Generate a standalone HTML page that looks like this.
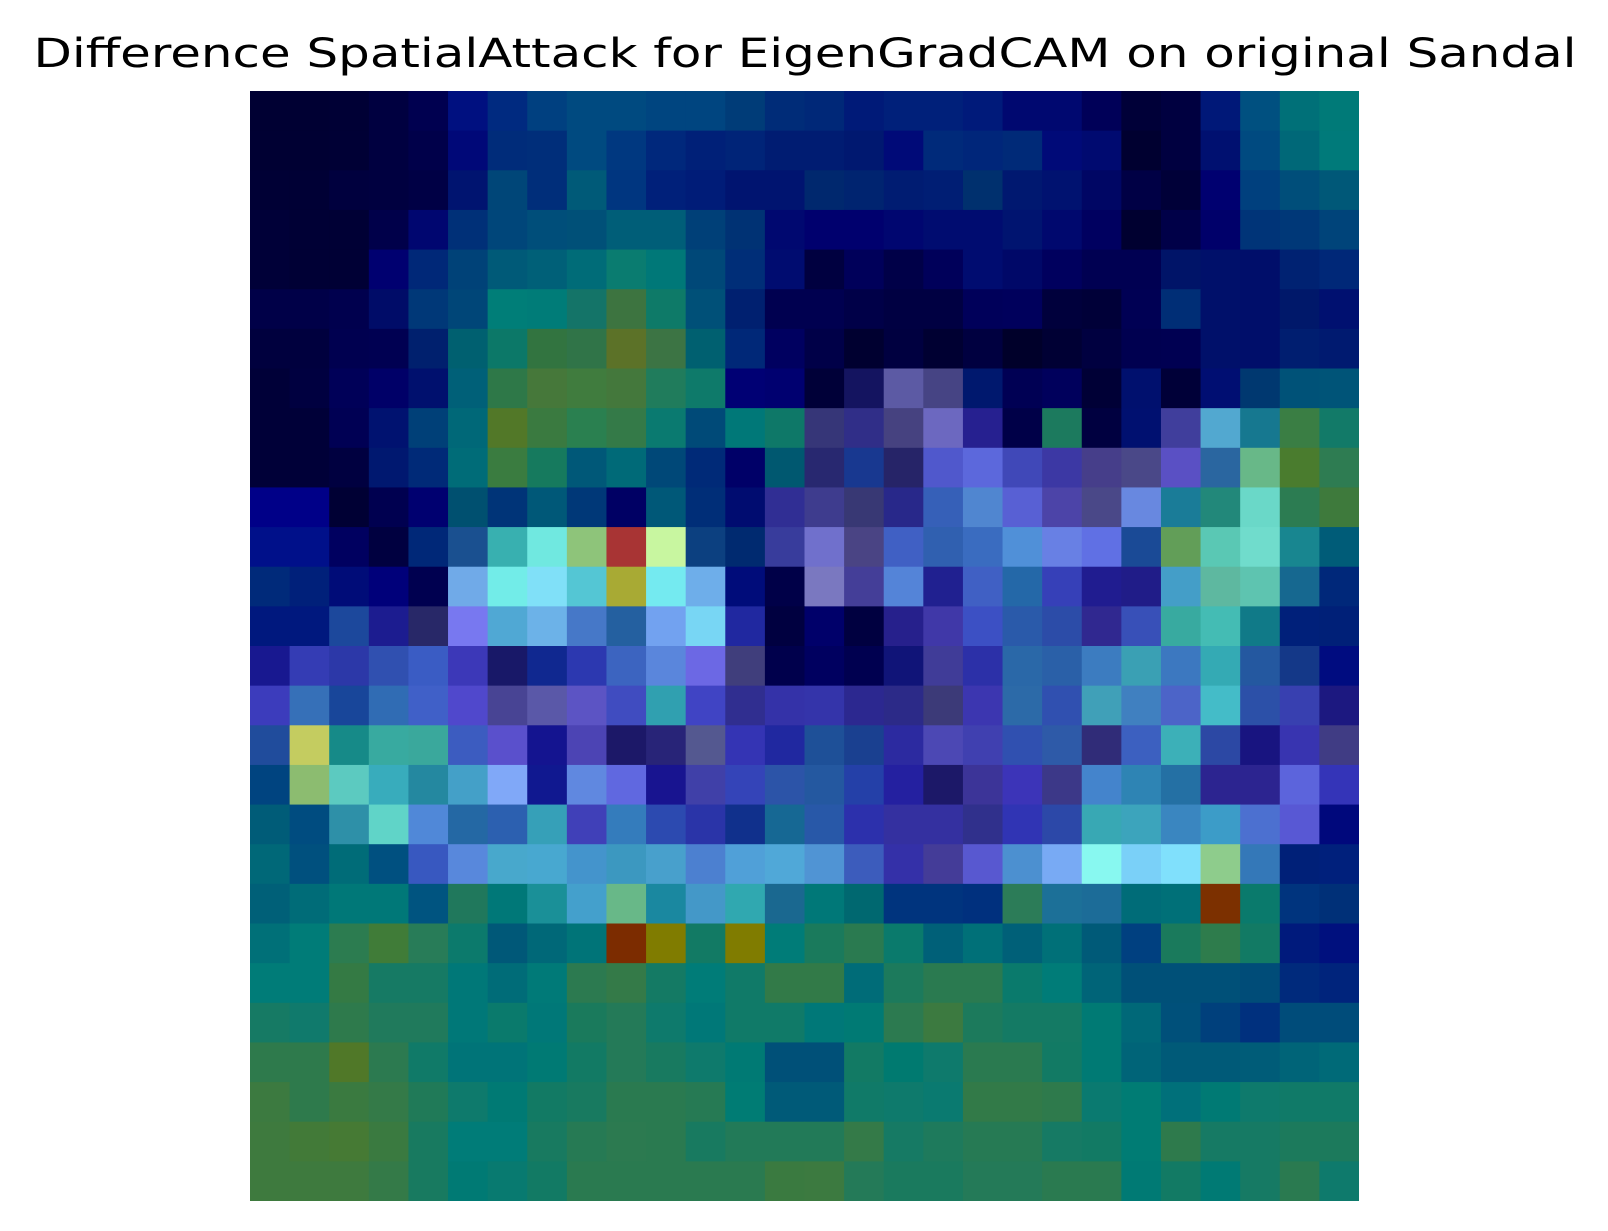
<!DOCTYPE html>
<html><head><meta charset="utf-8"><style>
html,body{margin:0;padding:0;background:#fff;width:1608px;height:1231px;overflow:hidden}
svg{display:block}
</style></head><body>
<svg id="chart" width="1608" height="1231" xmlns="http://www.w3.org/2000/svg">
<rect width="1608" height="1231" fill="#fff"/>
<text x="805" y="67" text-anchor="middle" font-family="DejaVu Sans, Liberation Sans, sans-serif" font-size="40" textLength="1543" lengthAdjust="spacingAndGlyphs" fill="#000">Difference SpatialAttack for EigenGradCAM on original Sandal</text>
<g id="cells"></g>
</svg>
<script>
const rowIndex = Array.from({length:28},(_,i)=>i);
const colIndex = Array.from({length:28},(_,i)=>i);
const cellColors = [
"000033 000033 000035 000040 000050 001080 002a80 004080 004a80 004a80 004580 004580 003c78 002c78 002878 001a78 00207a 00207a 001a7a 000870 000870 000058 000038 000040 001878 005080 007078 007a78",
"000033 000033 000035 000040 00004a 000878 002c7a 002e7a 004a80 003880 00287c 002078 002478 001c72 001c72 001870 000a78 002a7a 00267a 002a78 000a78 000a70 000030 000040 001070 004a80 006878 007a7a",
"000035 000035 00003e 000040 000045 001470 004678 002e7a 005a78 003680 00207a 001c78 001470 001470 00286e 002470 001c72 001e74 00306e 001870 001270 000664 000045 000038 000070 00407e 004e7a 005878",
"000038 000035 000035 00004a 000670 003078 00467a 004e7a 005078 005e78 005e78 004078 003274 000870 00006e 00006e 000670 000c70 000c70 001470 00086e 000060 000030 000048 00006a 003478 003878 00447a",
"000038 000035 000035 000070 002878 004278 005a78 006078 006c78 0a7c70 007878 004878 002e78 000c70 000040 00005a 000048 00005a 000c70 000868 00005e 000052 000052 001468 00106a 000e6a 002272 002878",
"000048 000048 00004e 000c68 003878 004678 007e78 007c78 147468 3d7440 0e7a68 005078 002070 000050 000050 000048 000042 000042 00005a 00005c 00003c 000038 000054 002e76 00106a 000e6a 00186a 001070",
"00003e 00003e 000050 000052 00206e 006070 0c7868 327440 307448 5c7228 3c7444 006070 002878 000060 000048 000030 000040 000032 000040 00002a 000034 000040 000050 000052 00106a 000e6a 001e70 001a70",
"000038 000040 000058 000068 00106e 006078 2e7848 46783a 407c3e 44783c 207c5c 0e7a6a 000074 000070 000038 141460 5c5aa4 464484 00186e 000054 00005c 000036 00106e 000038 000e72 003870 005278 005478",
"000038 000038 000054 001270 004078 006878 527828 3a7a40 2a8050 347a48 0a7a70 004a78 007878 0e7868 363678 302e88 464280 6c68c0 262090 000048 1c7a5e 000040 001070 403e9c 52a8d0 167890 3a7e44 127a68",
"000038 000038 000040 001870 002a78 006c78 3a7c40 167a5e 005878 006a78 004878 002a78 000068 005870 282870 183890 262468 5058cc 5c68dc 4048b8 3c38a4 463e8a 4a4888 5a50c4 2a66a0 68b888 4a7c2e 2e7c52",
"000088 000088 000034 000050 000070 005070 003478 005878 003878 000064 005878 002e78 000c70 302e94 3e3c8e 383874 28288a 3660b8 5086d0 5860d4 4c44a8 4a4888 6888e0 1a7c98 22887a 6ad8c8 2c7c52 3e7a3c",
"00108a 00108a 000060 000040 002878 1a5090 38b0b0 70e8e0 8ec47a a83434 c8f6a0 0c4080 002a70 383c9c 7070cc 4a4484 4060c4 3060b0 3a6cc0 5090d8 6880e4 6070e4 1a4a96 629e58 5ac8b4 70dccc 188690 005c78",
"002a7a 00207a 000c78 00007a 000050 70aae8 72ece8 80e0f8 54c6d4 a8aa34 74eaf0 6eaeea 000c7a 000048 7a78c0 443e98 5484d8 202090 4060c4 2468a8 3640b8 201c90 201c88 449ec8 5eb8a0 5ec4b0 166890 00287a",
"00187e 00187e 1c489c 1c1c90 282868 7878f0 50a8d4 6cb2e8 4678c8 2460a0 72a2f0 78d6f4 2028a0 000040 00006a 000040 26208c 4038a8 3c50c4 2a5aaa 2c4ca8 302890 3850b8 38aaa0 44bcb4 107a88 00207a 002078",
"181890 343cb4 2c38a8 3050b0 3a5cc4 3c38b8 181868 102890 2c38b0 3c64c0 5a86dc 6c68e4 403e7c 00004c 000060 000050 101478 403c98 2c30a8 2a68a8 2a60a8 3c7cc0 3aa0b4 3c78c0 34aab4 2458a0 143888 000c80",
"3c3cbc 3670b8 18469a 306cb4 4060c8 5048cc 484494 5a58a8 5c54c4 404cc0 30a0b0 4044c4 302e90 3432a8 3434aa 2c2890 2c2a88 3c3a78 3c36b0 2c6aa8 3050b0 40a0b8 4080c0 4c64c8 44bcc8 2c50a8 3840b0 1c1880",
"204c9c c4cc60 168a88 38aaa0 3aa89c 3c5cc0 5a50cc 141490 4c44b4 1c1868 282478 545890 3434b4 2028a0 1e5098 1a4090 2c2aa0 4c48b4 4040b0 3050b0 2e5aa8 302c78 3c60c0 3cb0b8 2c48a4 181480 3834b0 403c84",
"004480 8cbc70 5ccac0 38acbc 2488a0 44a0c8 80a8f8 101890 6088e0 6068e0 181490 4040a8 3444b8 2c54a8 2458a0 2440a8 2420a0 1c1868 3c3498 3c34b8 3c3888 4484cc 2e84b4 2470a4 2c2490 2c2490 5c64dc 3434b8",
"005c78 004c80 2e90a8 60d4c8 5088d8 2468a4 2c60b0 36a0b8 4040b8 347cbc 2c4ab0 2a34a8 10308c 166894 2858a8 2c30ac 3430a0 3430a0 30308c 3034b4 2c48a8 38a8b4 3ca4bc 3a86c0 3c9cc8 4c70d0 5858d4 00087c",
"006878 00507e 006c78 005080 3858c0 5888dc 48a8cc 48a8d0 4494cc 3c98c0 48a0cc 4c80d0 50a0d8 50a8d8 5094d4 3c5cbc 3430a8 443c98 5858d0 4c90d0 78aaf4 88f8f0 7ad0f8 80e0fc 8ecc8c 3478b8 002078 00207c",
"006078 006c78 007878 007878 005480 20785c 007878 1a9098 44a0cc 68b888 1a88a0 4498c8 30a8b0 1a6890 007878 006870 00347e 00347e 00307e 2c7c58 1c7098 1c6c98 006c78 007078 7c3000 0a7a6c 00347e 003078",
"007078 007c78 2c7c50 407c38 287c58 0c7a6c 005878 006878 007478 7c2c00 807c00 127a64 807c00 007c78 1a7a5c 2a7a50 0a7a6c 006078 007078 006078 007078 005a78 004080 1a7a5c 2e7c4c 127a64 001a7c 00107e",
"007c78 007c78 347a44 167a64 167a64 007878 006c78 007a78 2c7a50 347a48 147a64 007c78 107a68 327a48 327a48 006c78 1c7a5c 2a7a50 2a7a50 0a7a6c 007c78 006478 005078 005078 005078 004c78 002a7c 00247c",
"167a64 107a6c 2e7a4c 207a5c 207a5c 007878 0a7a6c 007878 1a7a5c 247a58 0e7a6c 007878 107a68 107a68 007878 007a74 2c7a50 3c7a40 1c7a5c 147a64 147a64 007a74 006878 00507a 00407c 00307e 004c7a 004c7a",
"2e7a4c 2e7a4c 507828 2c7a50 107a68 007478 007478 007a74 127a64 247a58 187a60 0e7a6c 007a74 005078 005078 127a64 007a70 0e7a6c 2a7a50 2a7a50 127a64 007a74 006478 005a78 005a78 005c78 006478 006a78",
"3c7a40 2e7a4c 3a7a40 347a48 207a58 0e7a6c 007a74 127a64 187a60 2a7a50 2a7a50 267a54 007c74 005a78 005a78 107a68 0e7a6c 0a7a70 327a48 327a48 2e7a4c 0a7a70 007c74 00707a 007a74 0e7a6c 107a68 107a68",
"3e7a3e 427a38 467a34 3a7a40 187a60 007c78 007c78 187a60 267a54 2c7a50 2a7a50 187a60 227a58 227a58 227a58 347a48 167a64 1e7a5c 267a54 267a54 167a64 127a64 007c74 2e7a4c 167a64 167a64 1c7a5c 1c7a5c",
"3e7a3e 3e7a3e 3e7a3e 347a48 187a60 007a74 087a70 127a64 2a7a50 2a7a50 2a7a50 2a7a50 2a7a50 3a7a40 3c7a40 247a58 1a7a5e 1a7a5e 247a58 247a58 2a7a50 2a7a50 007a74 127a64 007a74 167a64 2a7a50 0e7a6c"
];
const X0 = 250, X1 = 1359, Y0 = 91, Y1 = 1201;
const nCols = colIndex.length, nRows = rowIndex.length;
function xScale(c){ return X0 + (X1 - X0) * c / nCols; }
function yScale(r){ return Y0 + (Y1 - Y0) * r / nRows; }
const g = document.getElementById('cells');
const NS = 'http://www.w3.org/2000/svg';
rowIndex.forEach(r => {
  const vals = cellColors[r].split(' ');
  colIndex.forEach(c => {
    const rect = document.createElementNS(NS, 'rect');
    const x = xScale(c), y = yScale(r);
    const w = (c === nCols - 1) ? X1 - x : xScale(c + 1) - x + 0.6;
    const h = (r === nRows - 1) ? Y1 - y : yScale(r + 1) - y + 0.6;
    rect.setAttribute('x', x.toFixed(2));
    rect.setAttribute('y', y.toFixed(2));
    rect.setAttribute('width', w.toFixed(2));
    rect.setAttribute('height', h.toFixed(2));
    rect.setAttribute('fill', '#' + vals[c]);
    
    
    g.appendChild(rect);
  });
});
</script>
</body></html>
